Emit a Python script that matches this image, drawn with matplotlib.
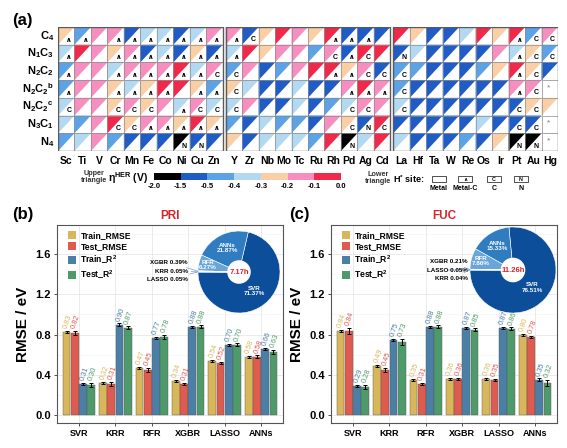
import numpy as np
import matplotlib
matplotlib.use('Agg')
import matplotlib.pyplot as plt
from matplotlib.colors import ListedColormap, BoundaryNorm
from matplotlib.patches import Polygon, Rectangle, Circle, Patch
from matplotlib.cm import ScalarMappable

plt.rcParams['font.family'] = ['Liberation Sans', 'DejaVu Sans']
plt.rcParams['mathtext.fontset'] = 'custom'
plt.rcParams['mathtext.rm'] = 'Liberation Sans'
plt.rcParams['mathtext.bf'] = 'Liberation Sans:bold'
plt.rcParams['mathtext.it'] = 'Liberation Sans:italic'
plt.rcParams['mathtext.default'] = 'bf'

# ---------------- data (a) ----------------
row_names = ['C$_4$', 'N$_1$C$_3$', 'N$_2$C$_2$', 'N$_2$C$_2$$^b$', 'N$_2$C$_2$$^c$', 'N$_3$C$_1$', 'N$_4$']
metals_3d = ['Sc', 'Ti', 'V', 'Cr', 'Mn', 'Fe', 'Co', 'Ni', 'Cu', 'Zn']
metals_4d = ['Y', 'Zr', 'Nb', 'Mo', 'Tc', 'Ru', 'Rh', 'Pd', 'Ag', 'Cd']
metals_5d = ['La', 'Hf', 'Ta', 'W', 'Re', 'Os', 'Ir', 'Pt', 'Au', 'Hg']

# eta_HER (V), estimated from colour bins
eta_3d = [
    [-0.25, -0.45, -0.15, -0.15, -1.0, -0.35, -0.35, -1.0, -0.35, -0.15],
    [-0.35, -0.05, -0.15, -0.25, -0.15, -1.0, -0.35, -1.0, -0.25, -1.0],
    [-0.45, -0.15, -0.15, -0.35, -0.15, -0.15, -0.15, -0.05, -0.35, -0.15],
    [-0.45, -0.15, -0.15, -0.25, -0.35, -0.25, -0.05, -0.05, -0.25, -0.45],
    [-0.35, -0.15, -0.15, -0.25, -0.15, -0.25, -0.15, -0.35, -0.15, -0.35],
    [-0.35, -0.45, -0.15, -0.05, -0.25, -0.15, -0.15, -0.25, -0.05, -0.25],
    [-0.45, -0.35, -0.15, -0.45, -1.0, -1.0, -1.0, -1.8, -1.0, -1.0],
]
eta_4d = [
    [-0.15, -1.0, -0.25, -0.05, -0.15, -0.25, -0.05, -1.0, -1.0, -1.0],
    [-0.35, -0.05, -0.25, -0.15, -0.15, -0.45, -0.15, -1.0, -0.05, -0.05],
    [-0.45, -0.15, -1.0, -0.45, -0.15, -0.05, -0.05, -0.25, -0.15, -1.0],
    [-0.25, -0.35, -1.0, -1.0, -0.35, -1.0, -1.0, -0.15, -0.05, -0.15],
    [-0.35, -0.15, -1.0, -1.0, -0.35, -1.0, -0.45, -0.35, -0.15, -0.15],
    [-0.45, -1.0, -0.35, -0.45, -0.45, -1.0, -0.15, -0.25, -1.0, -0.05],
    [-0.25, -1.0, -0.35, -0.35, -0.35, -0.45, -0.05, -1.8, -0.35, -0.05],
]
eta_5d = [
    [-0.05, -0.25, -1.0, -1.0, -0.35, -0.05, -0.25, -0.05, -0.45, -0.15],
    [-1.0, -0.35, -1.0, -1.0, -1.0, -1.0, -0.15, -0.35, -0.25, -0.45],
    [-0.45, -0.45, -1.0, -1.0, -1.0, -0.45, -0.25, -0.05, -0.25, -1.0],
    [-0.45, -1.0, -1.0, -1.0, -1.0, -1.0, -1.0, -0.15, -0.15, np.nan],
    [-0.35, -1.0, -1.0, -1.0, -1.0, -1.0, -1.0, -1.0, -0.25, -0.25],
    [-1.0, -1.0, -1.0, -1.0, -1.0, -0.35, -1.0, -1.0, -1.0, np.nan],
    [-0.35, -1.0, -1.0, -1.0, -0.45, -1.0, -0.25, -1.8, -1.8, np.nan],
]
# H* site: - metal, ^ metal-C, C, N, * no data
site_3d = ['^ ^ - ^ ^ ^ ^ ^ ^ ^',
           '^ - - ^ ^ ^ ^ ^ ^ ^',
           '^ - - ^ ^ ^ ^ ^ ^ C',
           '^ - - ^ ^ ^ ^ - ^ ^',
           'C - - C C C - ^ C C',
           '- - - C C ^ ^ ^ ^ ^',
           '- - - - - - - N N -']
site_4d = ['^ C - - - - ^ ^ ^ -',
           '^ - - - - - C ^ C -',
           'C - - - - - ^ ^ C C',
           'C - - - - - - ^ ^ ^',
           'C - - - - - - C C -',
           '- - - - - - - C N C',
           '- - - - - - - N - -']
site_5d = ['- - - - - - - ^ C C',
           'N - - - - - - ^ C C',
           'C - - - - - - ^ C -',
           'C - - - - - - ^ C *',
           'C - - - - - - C C -',
           '- - - - - - - C C *',
           '- - - - - - - N N *']

eta_bounds = [-2.0, -1.5, -0.5, -0.4, -0.3, -0.2, -0.1, 0.0]
bin_colors = ['#000000', '#1f5cc6', '#5ca2e6', '#b2d8f2', '#fbcfa6', '#f68ec0', '#f0284a']

# ---------------- data (b), (c) ----------------
models = ['SVR', 'KRR', 'RFR', 'XGBR', 'LASSO', 'ANNs']
series = ['Train_RMSE', 'Test_RMSE', 'Train_R$^2$', 'Test_R$^2$']
pri_train_rmse = [0.83, 0.32, 0.47, 0.34, 0.54, 0.58]
pri_test_rmse = [0.82, 0.31, 0.45, 0.31, 0.52, 0.58]
pri_train_r2 = [0.31, 0.90, 0.77, 0.88, 0.70, 0.66]
pri_test_r2 = [0.30, 0.87, 0.78, 0.88, 0.70, 0.63]
pri_err = [[0.01, 0.01, 0.01, 0.01, 0.01, 0.01],
           [0.02, 0.02, 0.02, 0.01, 0.01, 0.015],
           [0.01, 0.01, 0.01, 0.01, 0.01, 0.01],
           [0.02, 0.015, 0.02, 0.015, 0.015, 0.02]]
fuc_train_rmse = [0.84, 0.49, 0.35, 0.36, 0.36, 0.80]
fuc_test_rmse = [0.84, 0.45, 0.31, 0.36, 0.35, 0.78]
fuc_train_r2 = [0.29, 0.75, 0.88, 0.87, 0.87, 0.35]
fuc_test_r2 = [0.28, 0.73, 0.88, 0.85, 0.86, 0.32]
fuc_err = [[0.01, 0.01, 0.01, 0.01, 0.01, 0.01],
           [0.03, 0.02, 0.01, 0.01, 0.01, 0.01],
           [0.01, 0.01, 0.01, 0.01, 0.01, 0.015],
           [0.02, 0.03, 0.015, 0.015, 0.015, 0.03]]

pri_time_models = ['SVR', 'ANNs', 'RFR', 'XGBR', 'KRR', 'LASSO']
pri_time_share = [71.37, 21.87, 6.27, 0.39, 0.05, 0.05]
pri_total = '7.17h'
fuc_time_models = ['SVR', 'ANNs', 'RFR', 'XGBR', 'LASSO', 'KRR']
fuc_time_share = [76.51, 15.33, 7.86, 0.21, 0.05, 0.04]
fuc_total = '11.26h'

bar_colors = ['#d8b75b', '#dd5b4f', '#4b7fa6', '#4f9a6b']
pie_colors = ['#0d4e9a', '#2f7cc1', '#6aa5d8', '#9cc4e6', '#b6d4ee', '#cfe2f4']

W, H = 567, 448
fig = plt.figure(figsize=(W / 100, H / 100), dpi=100)


def px_box(l, t, r, b):
    return [l / W, 1 - b / H, (r - l) / W, (b - t) / H]


# ---------------- panel (a) ----------------
cmap = ListedColormap(bin_colors)
norm = BoundaryNorm(eta_bounds, cmap.N)
gap = 0.18
ax = fig.add_axes(px_box(58, 27, 558, 151))
ax.set_xlim(0, 30 + 2 * gap)
ax.set_ylim(7, 0)
ax.axis('off')

blocks = [(eta_3d, site_3d, metals_3d), (eta_4d, site_4d, metals_4d), (eta_5d, site_5d, metals_5d)]
for b, (eta, site, names) in enumerate(blocks):
    off = b * (10 + gap)
    for i in range(7):
        toks = site[i].split()
        for j in range(10):
            v = eta[i][j]
            x0, y0 = off + j, i
            fc = 'white' if np.isnan(v) else cmap(norm(v))
            ax.add_patch(Polygon([(x0, y0), (x0 + 1, y0), (x0, y0 + 1)], closed=True, fc=fc, ec='none'))
            ax.add_patch(Rectangle((x0, y0), 1, 1, fill=False, ec='#8c8c8c', lw=0.5))
            s = toks[j]
            if s == '*':
                ax.text(x0 + 0.45, y0 + 0.42, '*', ha='center', va='center', fontsize=6, color='#777777')
            elif s == '^':
                ax.text(x0 + 0.66, y0 + 0.72, '∧', ha='center', va='center', fontsize=5,
                        fontweight='bold', family=['DejaVu Sans'])
            elif s != '-':
                ax.text(x0 + 0.66, y0 + 0.72, s, ha='center', va='center', fontsize=5, fontweight='bold')
    for j, nm in enumerate(names):
        ax.text(off + j + 0.5, 7.55, nm, ha='center', va='center', fontsize=7.5, fontweight='bold')
    ax.add_patch(Rectangle((off, 0), 10, 7, fill=False, ec='#5a5a5a', lw=1.0))

for i, rn in enumerate(row_names):
    ax.text(-0.25, i + 0.5, rn, ha='right', va='center', fontsize=8, fontweight='bold')

cax = fig.add_axes(px_box(154, 173, 341, 180))
cb = fig.colorbar(ScalarMappable(norm=norm, cmap=cmap), cax=cax, orientation='horizontal')
cb.set_ticks(eta_bounds)
cb.set_ticklabels(['%.1f' % t for t in eta_bounds])
cb.outline.set_linewidth(0)
cax.tick_params(length=0, pad=2, labelsize=5.5)
for t in cax.get_xticklabels():
    t.set_fontweight('bold')

# overlay in pixel coords
ov = fig.add_axes([0, 0, 1, 1])
ov.set_xlim(0, W)
ov.set_ylim(H, 0)
ov.axis('off')
ov.patch.set_alpha(0)

ov.text(12, 21, '(a)', fontsize=12, fontweight='bold', va='center')
ov.text(12, 215, '(b)', fontsize=12, fontweight='bold', va='center')
ov.text(289, 215, '(c)', fontsize=12, fontweight='bold', va='center')
ov.text(94, 177, 'Upper\ntriangle', fontsize=5.2, fontweight='bold', ha='center', va='center',
        linespacing=1.1, color='#333333')
ov.text(108, 178, r'η$^{\mathbf{HER}}$ (V)', fontsize=7.5, fontweight='bold', ha='left', va='center')
ov.text(378, 178, 'Lower\ntriangle', fontsize=5.2, fontweight='bold', ha='center', va='center',
        linespacing=1.1, color='#333333')
ov.text(393, 179, r'H$^{*}$ site:', fontsize=6.5, fontweight='bold', ha='left', va='center')
site_legend = [('Metal', '', 439), ('Metal-C', '∧', 465), ('C', 'C', 494), ('N', 'N', 521)]
for lab, sym, cx in site_legend:
    ov.add_patch(Rectangle((cx - 7, 176.5), 14, 5.5, fill=False, ec='#333333', lw=0.6))
    if sym:
        ov.text(cx, 179.2, sym, fontsize=3.8, fontweight='bold', ha='center', va='center',
                family=['DejaVu Sans'] if sym == '∧' else None)
    ov.text(cx, 188, lab, fontsize=5, fontweight='bold', ha='center', va='center')


# ---------------- panels (b), (c) ----------------
def bar_panel(box, title, vals, errs, pie_box, pie_models, pie_share, pie_total, lab_x, lab_y):
    axb = fig.add_axes(px_box(*box))
    x = np.arange(1, len(models) + 1)
    step = 0.225
    for k in range(4):
        xs = x + (k - 1.5) * step
        axb.bar(xs, vals[k], width=0.215, color=bar_colors[k], edgecolor='#555555', lw=0.3,
                zorder=2, label=series[k])
        axb.errorbar(xs, vals[k], yerr=errs[k], fmt='none', ecolor='black', elinewidth=0.7,
                     capsize=1.2, capthick=0.7, zorder=3)
        for xi, v, e in zip(xs, vals[k], errs[k]):
            axb.text(xi - 0.03, v + e + 0.02, '%.2f' % v, rotation=70, rotation_mode='anchor',
                     ha='left', va='center', fontsize=5.3, color=bar_colors[k], zorder=4)
    axb.set_xlim(0.4, 6.6)
    axb.set_ylim(-0.08, 1.89)
    axb.set_yticks([0.0, 0.4, 0.8, 1.2, 1.6])
    axb.set_yticks([0.2, 0.6, 1.0, 1.4, 1.8], minor=True)
    axb.set_xticks(x)
    axb.set_xticklabels(models)
    axb.tick_params(axis='both', which='major', length=2.5, width=0.6, color='#333333', pad=2)
    axb.tick_params(axis='y', which='minor', length=0)
    axb.tick_params(axis='x', labelsize=6.5)
    axb.tick_params(axis='y', labelsize=8)
    for t in axb.get_xticklabels() + axb.get_yticklabels():
        t.set_fontweight('bold')
    axb.yaxis.set_major_formatter(matplotlib.ticker.FormatStrFormatter('%.1f'))
    axb.grid(True, which='major', color='#e6e6e6', lw=0.6, zorder=0)
    axb.grid(True, which='minor', axis='y', color='#f2f2f2', lw=0.4, zorder=0)
    axb.set_axisbelow(True)
    for sp in axb.spines.values():
        sp.set_color('#555555')
        sp.set_linewidth(0.8)
    axb.set_ylabel('RMSE / eV', fontsize=11, fontweight='bold')
    axb.yaxis.set_label_coords(-0.12, 0.5)
    axb.set_title(title, color='#d7262b', fontsize=8.5, fontweight='bold', pad=4)
    handles = [Patch(fc=c, ec='none') for c in bar_colors]
    axb.legend(handles, series, loc='upper left', bbox_to_anchor=(0.02, 1.0), frameon=False,
               prop={'weight': 'bold', 'size': 6.2}, handlelength=1.0, handleheight=1.0,
               handletextpad=0.5, labelspacing=0.25, borderaxespad=0.3)

    axp = fig.add_axes(px_box(*pie_box))
    wedges, _ = axp.pie(pie_share, colors=pie_colors, startangle=180, counterclock=True,
                        radius=1.0, wedgeprops=dict(ec='white', lw=0.4))
    axp.set_xlim(-1, 1)
    axp.set_ylim(-1, 1)
    axp.set_aspect('equal')
    axp.axis('off')
    axp.add_patch(Circle((0, 0), 0.27, color='white', zorder=5))
    axp.text(0, 0, pie_total, color='#d7262b', fontsize=5.5, fontweight='bold',
             ha='center', va='center', zorder=6)
    rads = [0.6, 0.66, 0.78]
    for k in range(3):
        w = wedges[k]
        ang = np.deg2rad((w.theta1 + w.theta2) / 2)
        axp.text(rads[k] * np.cos(ang), rads[k] * np.sin(ang),
                 '%s\n%.2f%%' % (pie_models[k], pie_share[k]), color='white', fontsize=4.5,
                 fontweight='bold', ha='center', va='center', linespacing=1.1, zorder=6)
    for k in range(3, 6):
        w = wedges[k]
        ang = np.deg2rad((w.theta1 + w.theta2) / 2)
        axp.annotate('%s %.2f%%' % (pie_models[k], pie_share[k]),
                     xy=(np.cos(ang), np.sin(ang)), xytext=(lab_x, lab_y[k - 3]),
                     ha='right', va='center', fontsize=4.5, fontweight='bold',
                     arrowprops=dict(arrowstyle='-', lw=0.5, color='#7a9cc0',
                                     shrinkA=0.5, shrinkB=0), annotation_clip=False)


pri_vals = [pri_train_rmse, pri_test_rmse, pri_train_r2, pri_test_r2]
fuc_vals = [fuc_train_rmse, fuc_test_rmse, fuc_train_r2, fuc_test_r2]
bar_panel((57, 225, 283, 423), 'PRI', pri_vals, pri_err, (198, 231, 280, 313),
          pri_time_models, pri_time_share, pri_total, -1.25, [0.24, 0.02, -0.18])
bar_panel((331, 225, 557, 423), 'FUC', fuc_vals, fuc_err, (470, 227, 556, 313),
          fuc_time_models, fuc_time_share, fuc_total, -1.05, [0.19, 0.0, -0.19])

fig.savefig('out.png', dpi=100)
